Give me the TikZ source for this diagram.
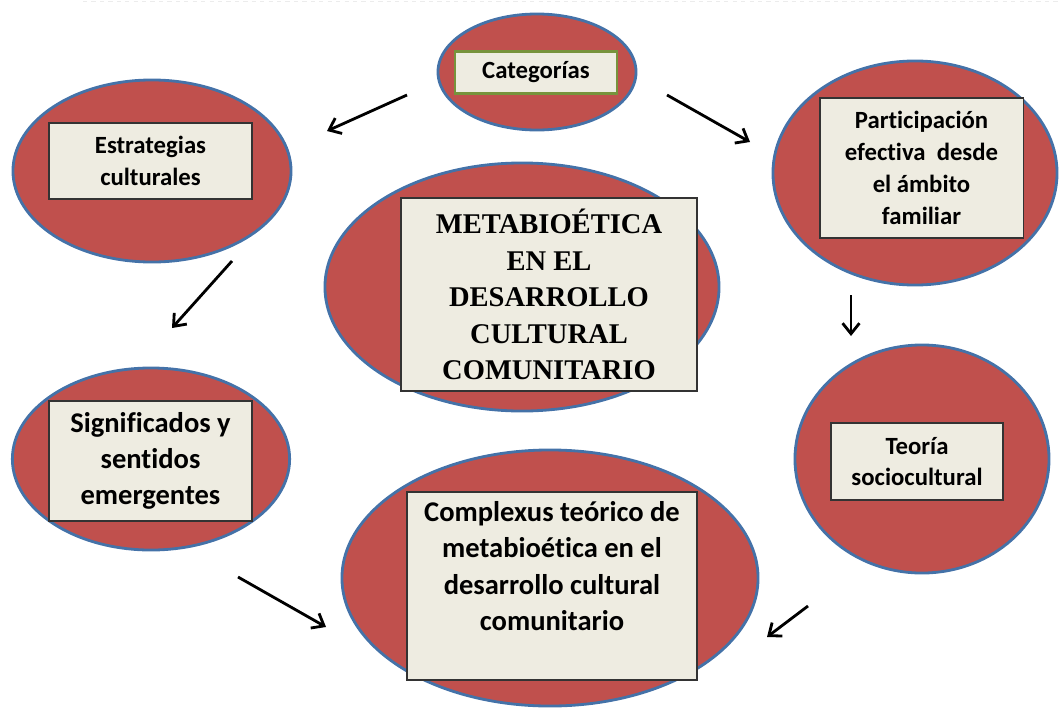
\documentclass[tikz,border=0pt]{standalone}
\usepackage{fontspec}
\setmainfont{Carlito}[Ligatures=NoCommon]
\newfontfamily\timesfont{Liberation Serif}
\usetikzlibrary{shapes.geometric,arrows.meta,positioning}

\definecolor{bubblered}{HTML}{C0504D}
\definecolor{bubbleblue}{HTML}{4472A8}
\definecolor{cardfill}{HTML}{EEECE1}
\definecolor{cardgreen}{HTML}{77933C}

\tikzset{
  bubble/.style={ellipse, draw=bubbleblue, line width=2pt, fill=bubblered, inner sep=0pt},
  card/.style={rectangle, draw=black!80, line width=0.9pt, fill=cardfill, inner sep=0pt, align=center},
  cardtext/.style={font=\bfseries\fontsize{17.6}{22.6}\selectfont},
  bigtext/.style={font=\bfseries\fontsize{20.3}{25.8}\selectfont},
  flow/.style={line width=2pt, -{Straight Barb[length=7.5pt,width=12pt,line width=2pt]}}
}

\begin{document}
\begin{tikzpicture}[x=0.025cm,y=-0.025cm]
    \useasboundingbox (0,0) rectangle (1059,711);
    \draw [gray!15, dashed] (83,1) -- (1059,1);

    % ellipses
    \node (catE) [bubble, minimum width=4.95cm, minimum height=2.9cm] at (537,72) {};
    \node (estE) [bubble, minimum width=6.95cm, minimum height=4.55cm] at (152,171) {};
    \node (parE) [bubble, minimum width=7.1cm, minimum height=5.6cm] at (915,173) {};
    \node (metE) [bubble, minimum width=9.85cm, minimum height=6.2cm] at (522,287) {};
    \node (sigE) [bubble, minimum width=6.93cm, minimum height=4.55cm] at (151,459) {};
    \node (teoE) [bubble, minimum width=6.35cm, minimum height=5.7cm] at (922,459) {};
    \node (comE) [bubble, minimum width=10.4cm, minimum height=6.4cm] at (550,578) {};

    % boxes
    \node (cat) [card, cardtext, draw=cardgreen, line width=2pt, minimum width=4.05cm, minimum height=1.03cm] at (536,72.5) {Categorías};
    \node (est) [card, cardtext, minimum width=5.08cm, minimum height=1.9cm] at (150.5,161) {Estrategias\\culturales};
    \node (par) [card, cardtext, minimum width=5.08cm, minimum height=3.5cm] at (921.5,168) {Participación\\efectiva\ \ desde\\el ámbito\\familiar};
    \node (met) [card, minimum width=7.4cm, minimum height=4.83cm, font=\timesfont\bfseries\fontsize{20.3}{26}\selectfont] at (549,294.5) {METABIOÉTICA\\EN EL\\DESARROLLO\\CULTURAL\\COMUNITARIO};
    \node (sig) [card, bigtext, minimum width=5.08cm, minimum height=3.0cm] at (150.5,461) {Significados y\\sentidos\\emergentes};
    \node (teo) [card, cardtext, minimum width=4.3cm, minimum height=1.93cm] at (917,461.5) {Teoría\\sociocultural};
    \node (com) [card, minimum width=7.25cm, minimum height=4.7cm] at (552,586) {};
    \node (comT) [bigtext, align=center, anchor=north, below=0.25cm of com.north, inner sep=0pt] {Complexus teórico de\\metabioética en el\\desarrollo cultural\\comunitario};

    % arrows
    \coordinate (A0) at (407,95);
    \coordinate (A1) at (327,131);
    \coordinate (A2) at (667,95);
    \coordinate (A3) at (750,142);
    \coordinate (A4) at (232,261);
    \coordinate (A5) at (172,328);
    \coordinate (A6) at (851,295);
    \coordinate (A7) at (851,336);
    \coordinate (A8) at (238,577);
    \coordinate (A9) at (326,627);
    \coordinate (A10) at (808,606);
    \coordinate (A11) at (767,637);

    \draw [flow] (A0) -- (A1);
    \draw [flow] (A2) -- (A3);
    \draw [flow] (A4) -- (A5);
    \draw [flow] (A6) -- (A7);
    \draw [flow] (A8) -- (A9);
    \draw [flow] (A10) -- (A11);
\end{tikzpicture}
\end{document}
